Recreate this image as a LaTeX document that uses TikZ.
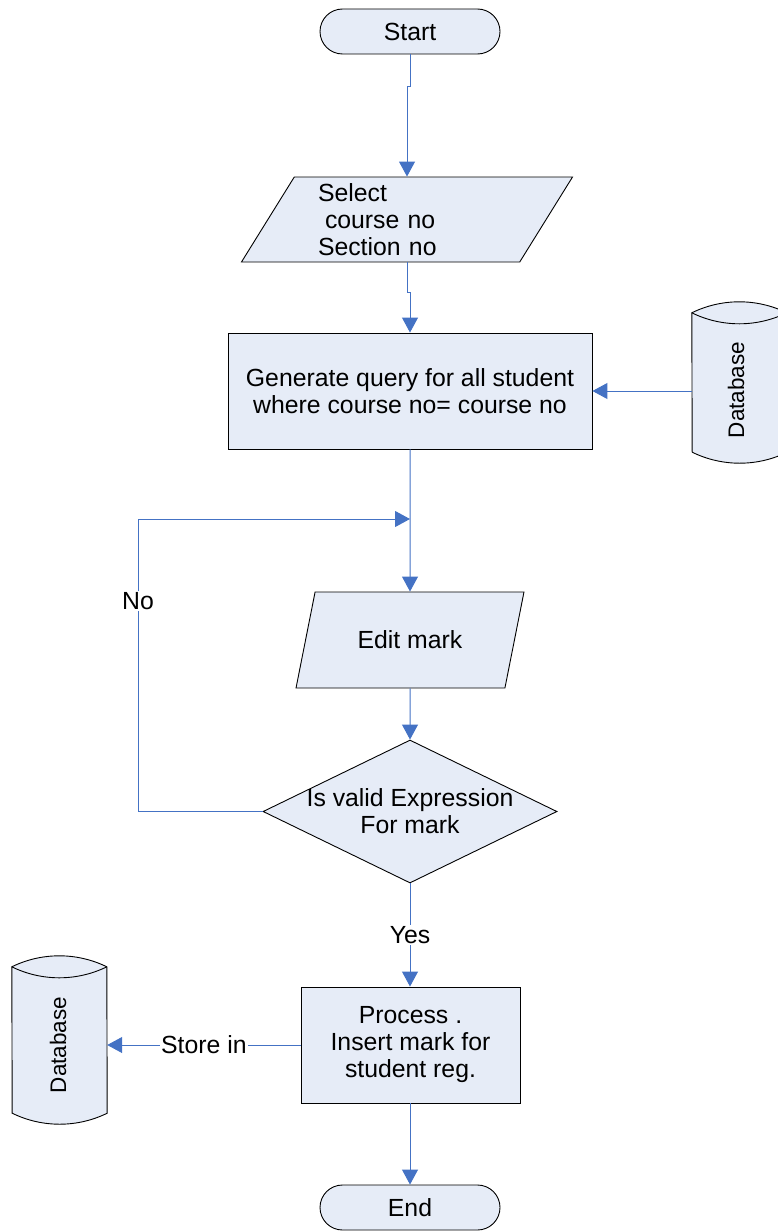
\documentclass[tikz,border=0pt]{standalone}
\usepackage{fontspec}
\setmainfont{Liberation Sans}
\usetikzlibrary{shapes.geometric,arrows.meta,calc}
\definecolor{boxfill}{RGB}{230,236,247}
\definecolor{flow}{RGB}{68,114,196}
\begin{document}
\begin{tikzpicture}[x=1pt,y=-1pt,
  every node/.style={font=\fontsize{24.8}{27}\selectfont, inner sep=0pt, text=black},
  box/.style={draw=black, line width=0.9pt, fill=boxfill},
  terminal/.style={box, rectangle, rounded corners=22.5pt, minimum width=180pt, minimum height=45pt},
  procbox/.style={box, rectangle},
  io/.style={box, trapezium, trapezium left angle=60, trapezium right angle=120, trapezium stretches=true},
  decision/.style={box, diamond},
  dbslot/.style={rectangle, minimum width=95pt},
  drum/.style={box},
  dblabel/.style={rotate=90, font=\fontsize{22.5}{27}\selectfont},
  flowline/.style={draw=flow, line width=1pt},
  arr/.style={flowline, -{Triangle[length=15pt,width=16pt]}},
  tag/.style={fill=white, inner sep=1pt},
  lens/.style={radius=108.06pt},
]
\useasboundingbox (0,0) rectangle (778,1231);

% main column
\node[terminal] (start) at (410,31.5) {Start};
\node[io, minimum width=332pt, minimum height=85pt, text width=178pt, align=left] (select) at (407,219.5)
  {Select\\\hspace*{7pt}course no\\Section no};
\node[procbox, minimum width=364pt, minimum height=116pt, align=center] (gen) at (410,391)
  {Generate query for all student\\where course no= course no};
\node[io, minimum width=228pt, minimum height=96pt] (edit) at (410,640) {Edit mark};
\node[decision, minimum width=294pt, minimum height=143pt,
  label={[align=center]center:Is valid Expression\\For mark}] (check) at (410,811.5) {};
\node[procbox, minimum width=219pt, minimum height=116pt, align=center] (proc) at (410.5,1045)
  {Process .\\Insert mark for\\student reg.};
\node[terminal] (stop) at (410,1207.5) {End};

% database drums: lens-shaped lid, arched base
\node[dbslot, minimum height=139pt] (db2) at (739.5,382.5) {};
\filldraw[drum] (db2.north west) arc[lens, start angle=116.08, end angle=63.92]
  -- (db2.south east) arc[lens, start angle=296.08, end angle=243.92] -- cycle;
\draw[line width=0.9pt] (db2.north west) arc[lens, start angle=243.92, end angle=296.08];
\node[dblabel] (db2txt) at (736,390) {Database};

\node[dbslot, minimum height=146pt] (db1) at (59.5,1040) {};
\filldraw[drum] (db1.north west) arc[lens, start angle=116.08, end angle=63.92]
  -- (db1.south east) arc[lens, start angle=296.08, end angle=243.92] -- cycle;
\draw[line width=0.9pt] (db1.north west) arc[lens, start angle=243.92, end angle=296.08];
\node[dblabel] (db1txt) at (58,1045) {Database};

% connectors
\draw[arr] (start.south) -- ++(0,32) -| (select.north);
\draw[arr] (select.south) -- ++(0,30) -| (gen.north);
\draw[arr] (db2.west |- gen.east) -- (gen.east);
\draw[arr] (gen.south) -- (edit.north);
\coordinate (loopcorner) at (138,519);
\draw[arr] (check.west) -| (loopcorner) -- (gen.south |- loopcorner);
\node[tag] (nolbl) at (138,601) {No};
\draw[arr] (edit.south) -- (check.north);
\draw[arr] (check.south) -- node[tag] (yeslbl) {Yes} (check.south |- proc.north);
\draw[arr] (proc.west) -- node[tag, pos=0.5] (storelbl) {Store in} (proc.west -| db1.east);
\draw[arr] (proc.south -| stop.north) -- (stop.north);
\end{tikzpicture}
\end{document}
